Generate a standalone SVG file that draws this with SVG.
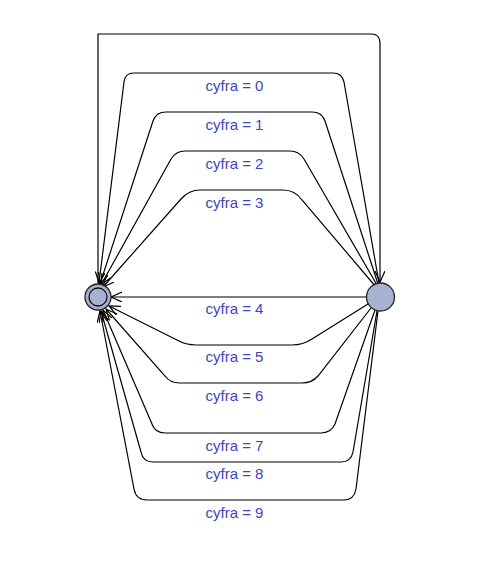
<svg xmlns="http://www.w3.org/2000/svg" width="478" height="568" viewBox="0 0 478 568">
  <style>
    .edge { fill: none; stroke: #000; stroke-width: 1.2; marker-end: url(#arrow); }
    .node { fill: #a9b1d1; stroke: #222; stroke-width: 1.3; }
    .lbl { font-family: "Liberation Sans", Arial, sans-serif; font-size: 15px; fill: #4343bf; text-anchor: middle; }
  </style>
  <defs>
    <marker id="arrow" markerUnits="userSpaceOnUse" markerWidth="14" markerHeight="12" refX="11" refY="5" orient="auto">
      <path d="M0,0 L11,5 L0,10" fill="none" stroke="#000" stroke-width="1.2"/>
    </marker>
  </defs>
  <rect width="478" height="568" fill="#fff"/>

  <g id="connectors">
    <!-- loop from initial state over the top into the right state -->
    <path class="edge" d="M98,284 L98,34 L371,34 Q380,34 380,43 L380,282"/>
    <!-- cyfra = 0 .. 3 (upper arcs) -->
    <path class="edge" d="M379,283 L344,82 Q342,73 333,73 L134,73 Q125,73 124,82 L99,283"/>
    <path class="edge" d="M378,284 L325,121 Q322,112 312,112 L166,112 Q156,112 153,121 L100,284"/>
    <path class="edge" d="M377,285 L304,159 Q299,151 290,151 L185,151 Q176,151 171,159 L101,285"/>
    <path class="edge" d="M376,287 L302,200 Q295,190 283,190 L200,190 Q189,190 181,199 L103,287"/>
    <!-- cyfra = 4 (direct) -->
    <path class="edge" d="M366,297 L111,297"/>
    <!-- cyfra = 5 .. 9 (lower arcs) -->
    <path class="edge" d="M368,304 L312,339 Q303,345 292,345 L196,345 Q186,345 177,340 L109,306"/>
    <path class="edge" d="M371,308 L318,376 Q312,383 302,383 L180,383 Q170,383 165,376 L106,309"/>
    <path class="edge" d="M375,310 L335,424 Q331,433 321,433 L165,433 Q155,433 152,424 L103,310"/>
    <path class="edge" d="M377,311 L353,452 Q351,462 341,462 L153,462 Q143,462 141,452 L101,311"/>
    <path class="edge" d="M378,311 L356,489 Q354,500 344,500 L147,500 Q136,500 134,489 L100,311"/>
  </g>

  <g id="labels">
    <text class="lbl" x="234.5" y="91">cyfra = 0</text>
    <text class="lbl" x="234.5" y="130">cyfra = 1</text>
    <text class="lbl" x="234.5" y="169">cyfra = 2</text>
    <text class="lbl" x="234.5" y="208">cyfra = 3</text>
    <text class="lbl" x="234.5" y="314">cyfra = 4</text>
    <text class="lbl" x="234.5" y="362">cyfra = 5</text>
    <text class="lbl" x="234.5" y="401">cyfra = 6</text>
    <text class="lbl" x="234.5" y="451">cyfra = 7</text>
    <text class="lbl" x="234.5" y="479">cyfra = 8</text>
    <text class="lbl" x="234.5" y="518">cyfra = 9</text>
  </g>

  <g id="state-initial">
    <circle class="node" cx="98" cy="297" r="13"/>
    <circle cx="98" cy="297" r="9" fill="none" stroke="#111" stroke-width="1.3"/>
  </g>
  <g id="state-right">
    <circle class="node" cx="380.5" cy="297" r="14"/>
  </g>
</svg>
